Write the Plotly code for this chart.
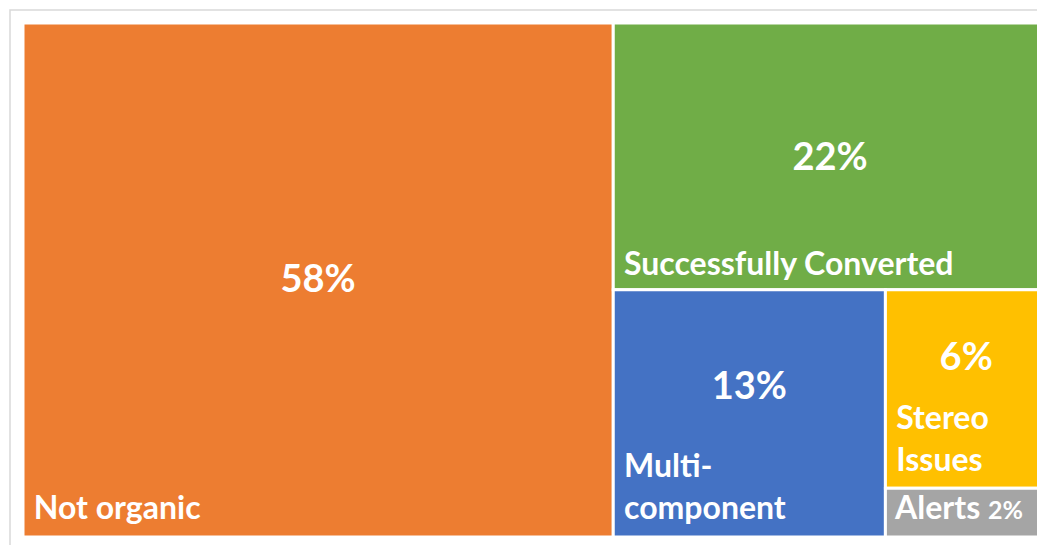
import plotly.graph_objects as go

categories = ["Not organic", "Successfully Converted", "Multi-component", "Stereo Issues", "Alerts"]
label_lines = [["Not organic"], ["Successfully Converted"], ["Multi-", "component"], ["Stereo", "Issues"], ["Alerts"]]
values = [57.7, 22.0, 12.8, 6.1, 1.5]   # shares read from tile areas (%)
colors = ["#ED7D31", "#70AD47", "#4472C4", "#FFC000", "#A5A5A5"]

parents = [""] * len(categories)
pct = [f"{round(v)}%" for v in values]
NB = "\u00a0"
# centre text: percentage (Alerts shows it inline with its label); spacer lifts the value above the label
lift = ["", "", "<br><span style='font-size:36px'> </span>", "<br><span style='font-size:90px'> </span>", ""]
center_text = [p + lf if v >= 5 else "" for p, v, lf in zip(pct, values, lift)]
corner_text = []
for lines, v, p in zip(label_lines, values, pct):
    body = "<br>".join(NB + ln for ln in lines)
    if v < 5:
        body += f" <span style='font-size:25px'>{p}</span>"
    corner_text.append(body)

FONT = "Lato"
PAD0 = dict(t=0, l=0, r=0, b=0)
CLEAR = ["rgba(0,0,0,0)"] * len(values)
common = dict(labels=categories, parents=parents, values=values,
              tiling=dict(packing="squarify", pad=0), pathbar=dict(visible=False), sort=True)

fig = go.Figure()
# coloured tiles
fig.add_trace(go.Treemap(
    **common,
    textinfo="none",
    marker=dict(colors=colors, line=dict(color="white", width=3), pad=PAD0),
    hoverinfo="skip",
))
# category labels, bottom-left
fig.add_trace(go.Treemap(
    **common,
    domain=dict(x=[0, 1], y=[0.016, 1]),
    text=corner_text,
    texttemplate="%{text}",
    textposition="bottom left",
    textfont=dict(family=FONT, size=32, color="white", weight="bold"),
    marker=dict(colors=CLEAR, line=dict(color="rgba(0,0,0,0)", width=3), pad=PAD0),
    hoverinfo="skip",
))
# percentages, centred
fig.add_trace(go.Treemap(
    **common,
    domain=dict(x=[0, 1], y=[0.012, 1]),
    text=center_text,
    texttemplate="%{text}",
    textposition="middle center",
    textfont=dict(family=FONT, size=38, color="white", weight="bold"),
    marker=dict(colors=CLEAR, line=dict(color="rgba(0,0,0,0)", width=3), pad=PAD0),
    hovertemplate="%{label}: %{value}%<extra></extra>",
))

fig.update_layout(
    width=1045, height=545,
    margin=dict(l=15, r=6, t=15, b=16),
    paper_bgcolor="white",
    plot_bgcolor="white",
    showlegend=False,
    shapes=[dict(type="rect", xref="paper", yref="paper",
                 x0=-0.0127, x1=1.05, y0=-0.1, y1=1.0253,
                 line=dict(color="#D9D9D9", width=1.5), fillcolor="rgba(0,0,0,0)", layer="below")],
)

fig.write_html("out.html")
